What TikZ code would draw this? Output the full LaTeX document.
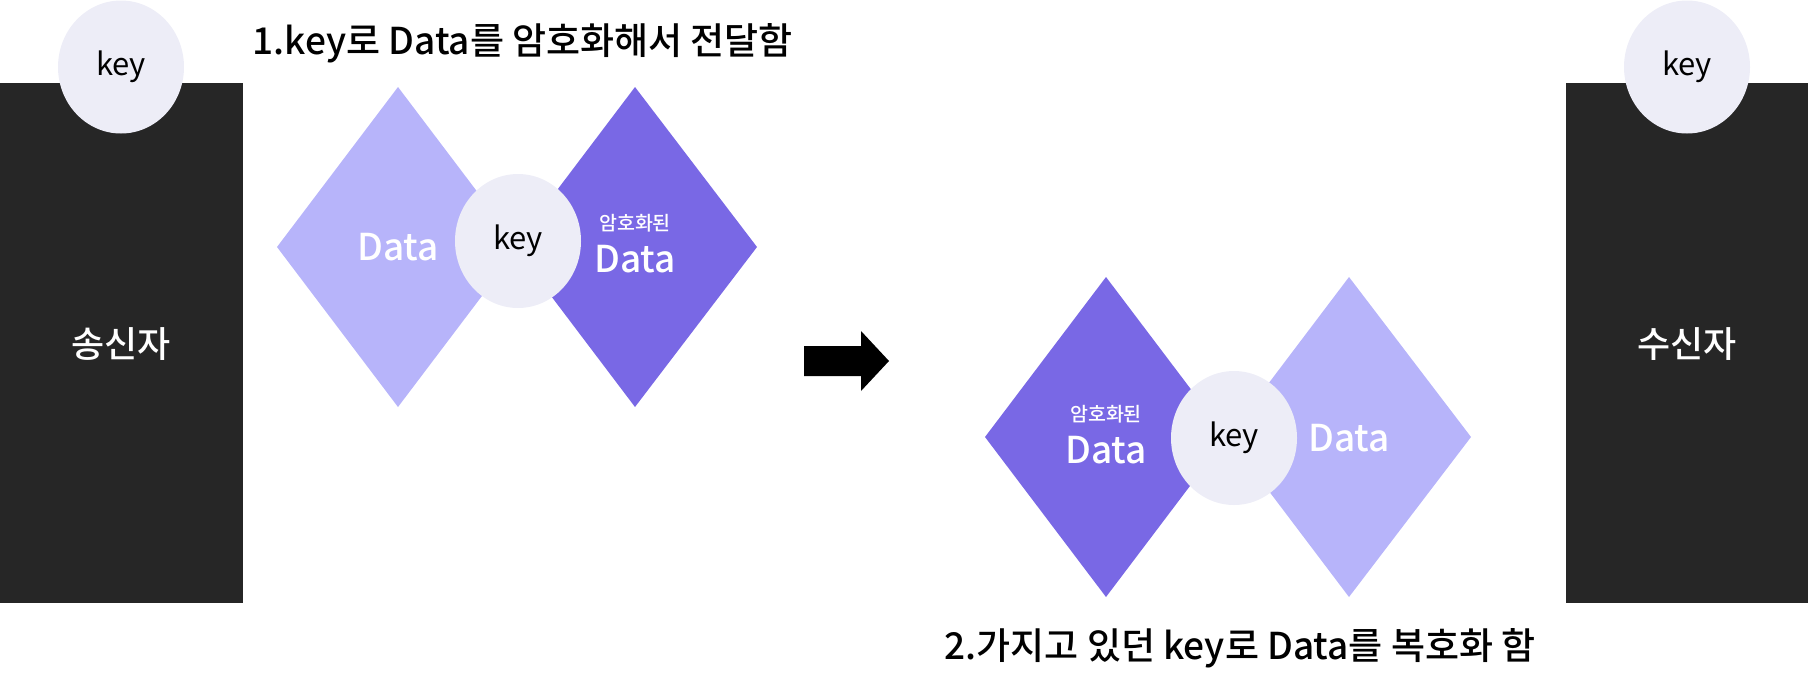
\documentclass[tikz,border=0pt]{standalone}
\usepackage{fontspec}
\setmainfont{Noto Sans CJK KR}
\newfontfamily\medfont{Noto Sans CJK KR Medium}
\usetikzlibrary{shapes.geometric}
\definecolor{darkbox}{HTML}{262626}
\definecolor{keyfill}{HTML}{EDEDF7}
\definecolor{lightdia}{HTML}{B7B4FA}
\definecolor{darkdia}{HTML}{7968E5}
\tikzset{
  party/.style={fill=darkbox, draw=none},
  keynode/.style={ellipse, fill=keyfill, draw=none, minimum width=126pt, minimum height=133pt, inner sep=0pt, font=\fontsize{31}{33}\selectfont},
  keyround/.style={ellipse, fill=keyfill, draw=none, minimum width=126pt, minimum height=134pt, inner sep=0pt, font=\fontsize{31}{33}\selectfont},
  partylabel/.style={text=white, font=\medfont\fontsize{36}{40}\selectfont},
  datalabel/.style={text=white, font=\medfont\fontsize{37}{40}\selectfont},
  smalllabel/.style={text=white, font=\medfont\fontsize{19.5}{22}\selectfont},
  titlelabel/.style={text=black, font=\medfont\fontsize{37}{42}\selectfont},
}
\begin{document}
\begin{tikzpicture}[x=1pt,y=-1pt]
\useasboundingbox (0,0) rectangle (1808,694);
% parties
\fill[party] (0,83) rectangle (243,603);
\fill[party] (1566,83) rectangle (1808,603);
\node[partylabel] (sender) at (121,344) {송신자};
\node[partylabel] (receiver) at (1687,344) {수신자};
\node[keynode] (skey) at (121,67) {key};
\node[keynode] (rkey) at (1687,67) {key};
% titles
\node[titlelabel, anchor=west] (t1) at (249,43) {1.key로 Data를 암호화해서 전달함};
\node[titlelabel, anchor=west] (t2) at (941,648) {2.가지고 있던 key로 Data를 복호화 함};
% step 1 diamonds
\fill[lightdia] (277,247) -- (398,87) -- (519,247) -- (398,407) -- cycle;
\fill[darkdia] (514,247) -- (635,87) -- (757,247) -- (635,407) -- cycle;
\node[datalabel] (d1) at (398,247) {Data};
\node[smalllabel] (e1a) at (635,223) {암호화된};
\node[datalabel] (e1b) at (635,259) {Data};
\node[keyround] (k1) at (518,241) {key};
% arrow
\fill[black] (804,346) -- (861,346) -- (861,331) -- (889,361) -- (861,391) -- (861,376) -- (804,376) -- cycle;
% step 2 diamonds
\fill[darkdia] (985,437) -- (1106,277) -- (1227,437) -- (1106,597) -- cycle;
\fill[lightdia] (1228,437) -- (1349,277) -- (1471,437) -- (1349,597) -- cycle;
\node[smalllabel] (e2a) at (1106,414) {암호화된};
\node[datalabel] (e2b) at (1106,450) {Data};
\node[datalabel] (d2) at (1349,438) {Data};
\node[keyround] (k2) at (1234,438) {key};
\end{tikzpicture}
\end{document}
